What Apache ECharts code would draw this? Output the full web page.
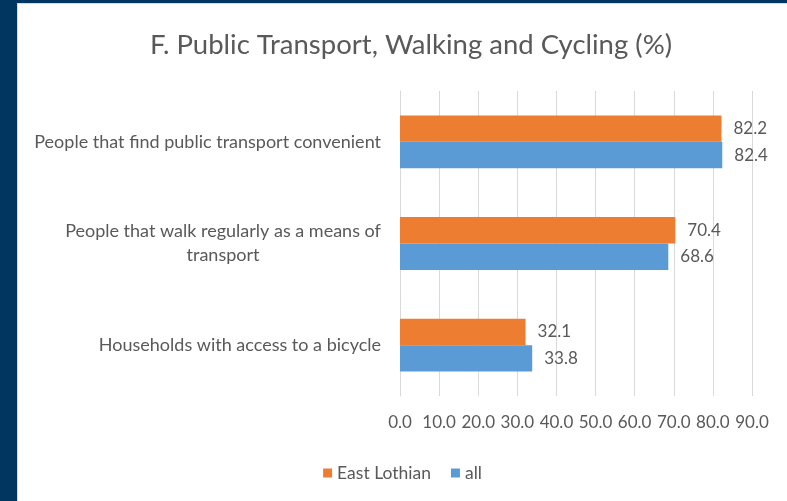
<!DOCTYPE html>
<html>
<head>
<meta charset="utf-8">
<script src="https://cdn.jsdelivr.net/npm/echarts@6/dist/echarts.min.js"></script>
<style>
  html, body { margin: 0; padding: 0; background: #00365f; }
  #chart {
    position: absolute; left: 17px; top: 3px;
    width: 769px; height: 497px;
    background: #fff;
    border-left: 1px solid #d9d9d9; border-top: 1px solid #d9d9d9;
  }
</style>
</head>
<body>
<div id="chart"></div>
<script>
// categories, top to bottom
const categories = [
  'People that find public transport convenient',
  'People that walk regularly as a means of\ntransport',
  'Households with access to a bicycle'
];
const eastLothian = [82.2, 70.4, 32.1];
const allAreas = [82.4, 68.6, 33.8];
const seriesNames = ['East Lothian', 'all'];

const FONT = 'Lato, "Noto Sans", sans-serif';
const GREY = '#595959';

const chart = echarts.init(document.getElementById('chart'));
const label = {
  show: true,
  position: 'right',
  distance: 12,
  fontFamily: FONT,
  fontSize: 17,
  color: GREY,
  formatter: p => p.value.toFixed(1)
};

// wrapped category names: lines centred within the right-aligned block
function catLabel(v) {
  const lines = v.split('\n');
  if (lines.length === 1) return v;
  return lines.map(l => `{c|${l}}`).join('\n');
}

chart.setOption({
  animation: false,
  title: {
    text: 'F. Public Transport, Walking and Cycling (%)',
    left: 388,
    top: 22,
    textAlign: 'center',
    textStyle: { fontFamily: FONT, fontSize: 27.5, fontWeight: 'normal', color: GREY }
  },
  legend: {
    data: seriesNames,
    left: 'center',
    top: 455,
    itemWidth: 9,
    itemHeight: 9,
    itemGap: 20,
    icon: 'rect',
    textStyle: { fontFamily: FONT, fontSize: 17.5, color: GREY }
  },
  grid: { left: 382, right: 35, top: 87, bottom: 105, containLabel: false },
  xAxis: {
    type: 'value',
    min: 0,
    max: 90,
    interval: 10,
    axisLine: { show: false },
    axisTick: { show: false },
    splitLine: { lineStyle: { color: '#d9d9d9', width: 1 } },
    axisLabel: {
      margin: 18,
      fontFamily: FONT,
      fontSize: 17,
      color: GREY,
      formatter: v => v.toFixed(1)
    }
  },
  yAxis: {
    type: 'category',
    data: categories,
    inverse: true,
    axisLine: { show: true, lineStyle: { color: '#d9d9d9' } },
    axisTick: { show: false },
    axisLabel: {
      margin: 19,
      fontFamily: FONT,
      fontSize: 18,
      lineHeight: 24,
      color: GREY,
      align: 'right',
      formatter: catLabel,
      rich: {
        c: { width: 316, align: 'center', fontFamily: FONT, fontSize: 18, lineHeight: 24, color: GREY }
      }
    }
  },
  series: [
    {
      name: seriesNames[0],
      type: 'bar',
      data: eastLothian,
      itemStyle: { color: '#ed7d31' },
      barGap: '0%',
      barCategoryGap: '48%',
      label
    },
    {
      name: seriesNames[1],
      type: 'bar',
      data: allAreas,
      itemStyle: { color: '#5b9bd5' },
      barGap: '0%',
      barCategoryGap: '48%',
      label
    }
  ]
});
</script>
</body>
</html>
